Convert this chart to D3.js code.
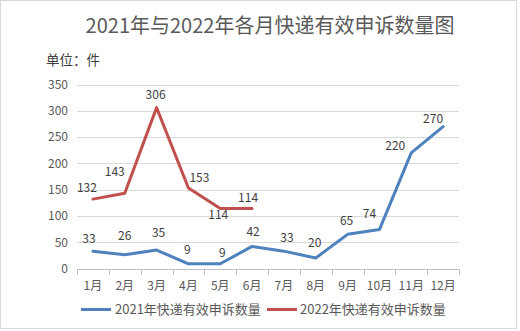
<!DOCTYPE html>
<html>
<head>
<meta charset="utf-8">
<script src="https://cdn.jsdelivr.net/npm/d3@7"></script>
<style>
  html, body { margin: 0; padding: 0; background: #fff; }
  svg { display: block; }
  text { font-family: "Noto Sans CJK SC", "Noto Sans", sans-serif; }
</style>
</head>
<body>
<svg id="chart" width="520" height="331"></svg>
<script>
// Monthly valid courier complaints
const months = ["1月", "2月", "3月", "4月", "5月", "6月", "7月", "8月", "9月", "10月", "11月", "12月"];
const complaints2021 = [33, 26, 35, 9, 9, 42, 33, 20, 65, 74, 220, 270];
const complaints2022 = [132, 143, 306, 153, 114, 114];
const seriesNames = ["2021年快递有效申诉数量", "2022年快递有效申诉数量"];
const yTicks = [0, 50, 100, 150, 200, 250, 300, 350];

// Label nudges [dx, dy] relative to each point
const labelShift2021 = [[-4, -12], [0, -19], [2, -17], [-1, -14], [2, -11], [1, -14],
                        [3, -13], [-1, -15], [-1, -13], [-10, -16], [-16, -7], [-10, -8]];
const labelShift2022 = [[-6, -11], [-10, -21], [-1, -13], [11, -10], [-2, 6], [-4, -11]];

const colors = ["#4f81bd", "#c0504d"];

const svg = d3.select("#chart");

// Outer frame
svg.append("rect")
  .attr("x", 0.5).attr("y", 0.5)
  .attr("width", 516).attr("height", 328)
  .attr("fill", "#fff")
  .attr("stroke", "#d9d9d9");

svg.append("text")
  .attr("x", 270).attr("y", 33)
  .attr("text-anchor", "middle")
  .attr("font-size", 20)
  .attr("fill", "#595959")
  .text("2021年与2022年各月快递有效申诉数量图");

svg.append("text")
  .attr("x", 46).attr("y", 65)
  .attr("font-size", 13.5)
  .attr("fill", "#404040")
  .text("单位：件");

const x = d3.scaleBand().domain(months).range([77, 459]);
const y = d3.scaleLinear().domain([0, 350]).range([268.5, 84.5]);

// Gridlines
svg.append("g")
  .selectAll("line")
  .data(yTicks.filter(d => d > 0))
  .join("line")
  .attr("x1", 77).attr("x2", 459)
  .attr("y1", d => Math.round(y(d)) + 0.5)
  .attr("y2", d => Math.round(y(d)) + 0.5)
  .attr("stroke", "#d9d9d9");

// Y axis labels
const yAxis = d3.axisLeft(y).tickValues(yTicks).tickSize(0).tickPadding(9);
const gy = svg.append("g").attr("transform", "translate(77,0)").call(yAxis);
gy.select(".domain").remove();
gy.selectAll("text")
  .attr("font-size", 12)
  .attr("fill", "#595959")
  .style("font-family", "'Noto Sans CJK SC', sans-serif");

// X axis with boundary ticks
const baseY = Math.round(y(0)) + 0.5;
const gx = svg.append("g");
gx.append("line")
  .attr("x1", 77).attr("x2", 459)
  .attr("y1", baseY).attr("y2", baseY)
  .attr("stroke", "#bfbfbf");
const edges = months.map(m => x(m)).concat([x.range()[1]]);
gx.selectAll("line.tk")
  .data(edges)
  .join("line")
  .attr("class", "tk")
  .attr("x1", d => Math.round(d) + 0.5).attr("x2", d => Math.round(d) + 0.5)
  .attr("y1", baseY).attr("y2", baseY + 5)
  .attr("stroke", "#bfbfbf");
gx.selectAll("text")
  .data(months)
  .join("text")
  .attr("x", d => x(d) + x.bandwidth() / 2)
  .attr("y", 290)
  .attr("text-anchor", "middle")
  .attr("font-size", 12)
  .attr("fill", "#595959")
  .text(d => d);

const cx = i => x(months[i]) + x.bandwidth() / 2;
const line = d3.line().x((d, i) => cx(i)).y(d => y(d));

function drawSeries(values, color, shifts) {
  svg.append("path")
    .datum(values)
    .attr("d", line)
    .attr("fill", "none")
    .attr("stroke", color)
    .attr("stroke-width", 3)
    .attr("stroke-linejoin", "round")
    .attr("stroke-linecap", "round");
  svg.append("g")
    .selectAll("text")
    .data(values)
    .join("text")
    .attr("x", (d, i) => cx(i) + shifts[i][0])
    .attr("y", (d, i) => y(d) + shifts[i][1] + 4)
    .attr("text-anchor", "middle")
    .attr("font-size", 12)
    .attr("fill", "#404040")
    .text(d => d);
}

drawSeries(complaints2022, colors[1], labelShift2022);
drawSeries(complaints2021, colors[0], labelShift2021);

// Legend
const legendPos = [[81, 115], [267, 300]];
seriesNames.forEach((name, i) => {
  svg.append("line")
    .attr("x1", legendPos[i][0]).attr("x2", legendPos[i][0] + 30)
    .attr("y1", 309.5).attr("y2", 309.5)
    .attr("stroke", colors[i])
    .attr("stroke-width", 3);
  svg.append("text")
    .attr("x", legendPos[i][1]).attr("y", 314)
    .attr("font-size", 13)
    .attr("fill", "#595959")
    .text(name);
});
</script>
</body>
</html>
